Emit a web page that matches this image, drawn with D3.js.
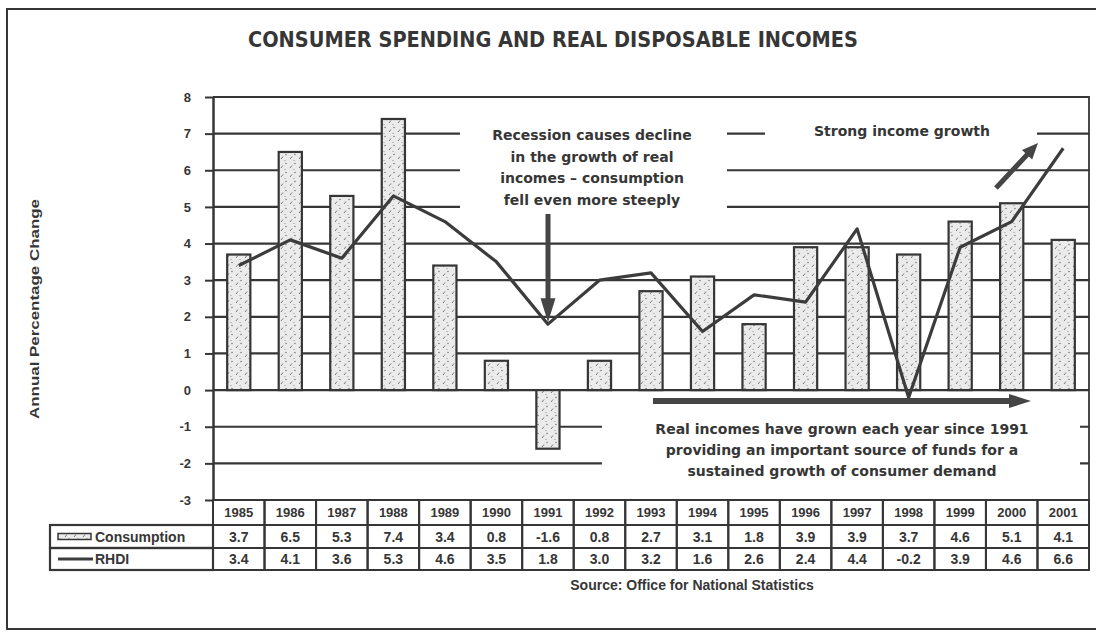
<!DOCTYPE html>
<html>
<head>
<meta charset="utf-8">
<script src="https://cdn.jsdelivr.net/npm/d3@7"></script>
<style>
  body { margin: 0; background: #fff; }
  svg { display: block; }
</style>
</head>
<body>
<div id="chart"></div>
<script>
var years = ["1985", "1986", "1987", "1988", "1989", "1990", "1991", "1992", "1993",
             "1994", "1995", "1996", "1997", "1998", "1999", "2000", "2001"];
var consumption = [3.7, 6.5, 5.3, 7.4, 3.4, 0.8, -1.6, 0.8, 2.7, 3.1, 1.8, 3.9, 3.9, 3.7, 4.6, 5.1, 4.1];
var rhdi = [3.4, 4.1, 3.6, 5.3, 4.6, 3.5, 1.8, 3.0, 3.2, 1.6, 2.6, 2.4, 4.4, -0.2, 3.9, 4.6, 6.6];
var yTicks = [-3, -2, -1, 0, 1, 2, 3, 4, 5, 6, 7, 8];
var gridValues = [-2, -1, 0, 1, 2, 3, 4, 5, 6, 7];
var seriesNames = ["Consumption", "RHDI"];
var title = "CONSUMER SPENDING AND REAL DISPOSABLE INCOMES";
var yLabel = "Annual Percentage Change";
var source = "Source: Office for National Statistics";
var recessionNote = ["Recession causes decline", "in the growth of real",
                     "incomes \u2013 consumption", "fell even more steeply"];
var growthNote = ["Strong income growth"];
var incomeNote = ["Real incomes have grown each year since 1991",
                  "providing an important source of funds for a",
                  "sustained growth of consumer demand"];

var W = 1096, H = 639;
var INK = "#363636";
var LEFT = 213, RIGHT = 1089, TOP = 97, BOTTOM = 500;
var ROW_H = [25, 23, 22];

var svg = d3.select("#chart")
  .append("svg")
  .attr("width", W)
  .attr("height", H);

// grainy fill used for the bars
var defs = svg.append("defs");
var pat = defs.append("pattern")
  .attr("id", "stipple")
  .attr("patternUnits", "userSpaceOnUse")
  .attr("width", 9)
  .attr("height", 9);
pat.append("rect").attr("width", 9).attr("height", 9).attr("fill", "#ebebeb");
pat.append("line")
  .attr("x1", 2).attr("y1", 6).attr("x2", 4).attr("y2", 3.5)
  .attr("stroke", "#7a7a7a").attr("stroke-width", 1);
pat.append("circle").attr("cx", 7).attr("cy", 1.5).attr("r", 0.7).attr("fill", "#666");
pat.append("circle").attr("cx", 6).attr("cy", 7.5).attr("r", 0.6).attr("fill", "#888");

var y = d3.scaleLinear().domain([-3, 8]).range([BOTTOM, TOP]);
var cols = d3.scaleBand().domain(years).range([LEFT, RIGHT]);
var x = d3.scaleBand().domain(years).range([LEFT, RIGHT])
  .paddingInner(0.55).paddingOuter(0.275);

// outer frame (left, top, bottom edges of the scanned page)
svg.append("path")
  .attr("d", "M1096,9 L7,9 L7,629 L1096,629")
  .attr("fill", "none")
  .attr("stroke", INK)
  .attr("stroke-width", 2);

svg.append("text")
  .attr("x", 553)
  .attr("y", 47)
  .attr("text-anchor", "middle")
  .attr("textLength", 610)
  .attr("lengthAdjust", "spacingAndGlyphs")
  .style("font-family", "'Liberation Sans Narrow', 'DejaVu Sans Condensed', sans-serif")
  .style("font-weight", "bold")
  .style("font-size", "21px")
  .attr("fill", INK)
  .text(title);

// gridlines
svg.append("g")
  .selectAll("line")
  .data(gridValues)
  .join("line")
  .attr("x1", LEFT)
  .attr("x2", RIGHT)
  .attr("y1", function(d) { return y(d); })
  .attr("y2", function(d) { return y(d); })
  .attr("stroke", INK)
  .attr("stroke-width", 2.2);

// plot border: top and right
svg.append("path")
  .attr("d", "M" + LEFT + "," + y(8) + " L" + RIGHT + "," + y(8) + " L" + RIGHT + "," + BOTTOM)
  .attr("fill", "none")
  .attr("stroke", INK)
  .attr("stroke-width", 1.8);

// white knock-outs behind the notes, breaking the gridlines
var knockouts = [
  { x0: 460, x1: 727, v0: 7.45, v1: 4.6 },
  { x0: 765, x1: 1037, v0: 7.45, v1: 6.6 },
  { x0: 602, x1: 1080, v0: -0.6, v1: -2.5 }
];
svg.append("g")
  .selectAll("rect")
  .data(knockouts)
  .join("rect")
  .attr("x", function(d) { return d.x0; })
  .attr("y", function(d) { return y(d.v0); })
  .attr("width", function(d) { return d.x1 - d.x0; })
  .attr("height", function(d) { return y(d.v1) - y(d.v0); })
  .attr("fill", "#fff");

// bars
svg.append("g")
  .selectAll("rect")
  .data(consumption)
  .join("rect")
  .attr("x", function(d, i) { return x(years[i]); })
  .attr("y", function(d) { return y(Math.max(0, d)); })
  .attr("width", x.bandwidth())
  .attr("height", function(d) { return Math.abs(y(d) - y(0)); })
  .attr("fill", "url(#stipple)")
  .attr("stroke", INK)
  .attr("stroke-width", 2.2);

// RHDI line
var line = d3.line()
  .x(function(d, i) { return x(years[i]) + x.bandwidth() / 2; })
  .y(function(d) { return y(d); });

svg.append("path")
  .datum(rhdi)
  .attr("d", line)
  .attr("fill", "none")
  .attr("stroke", "#3c3c3c")
  .attr("stroke-width", 3.2)
  .attr("stroke-linejoin", "round");

// y axis
var axis = svg.append("g")
  .attr("transform", "translate(" + LEFT + ",0)")
  .call(d3.axisLeft(y)
    .tickValues(yTicks)
    .tickFormat(function(d) { return String(d); })
    .tickSize(8)
    .tickSizeOuter(0)
    .tickPadding(14));
axis.select(".domain").attr("stroke", INK).attr("stroke-width", 2.5);
axis.selectAll(".tick line").attr("stroke", INK).attr("stroke-width", 2);
axis.selectAll(".tick text")
  .style("font-family", "'Liberation Sans', Arial, sans-serif")
  .style("font-weight", "bold")
  .style("font-size", "13px")
  .attr("fill", INK);

svg.append("text")
  .attr("transform", "translate(39,309) rotate(-90)")
  .attr("text-anchor", "middle")
  .attr("textLength", 220)
  .attr("lengthAdjust", "spacingAndGlyphs")
  .style("font-family", "'Liberation Sans Narrow', 'Liberation Sans', sans-serif")
  .style("font-weight", "bold")
  .style("font-size", "12px")
  .attr("fill", INK)
  .text(yLabel);

// notes
var noteFont = "'DejaVu Sans', 'Noto Sans', sans-serif";
var drawNote = function(lines, cx, top, gap) {
  svg.append("g")
    .selectAll("text")
    .data(lines)
    .join("text")
    .attr("x", cx)
    .attr("y", function(d, i) { return top + i * gap; })
    .attr("text-anchor", "middle")
    .style("font-family", noteFont)
    .style("font-weight", "bold")
    .style("font-size", "14px")
    .attr("fill", INK)
    .text(function(d) { return d; });
};
drawNote(recessionNote, 592, 140, 21.5);
drawNote(growthNote, 902, 136, 0);
drawNote(incomeNote, 842, 434, 21);

// arrows
var drawArrow = function(x1, y1, x2, y2, shaft, head, headLen) {
  var ang = Math.atan2(y2 - y1, x2 - x1);
  var len = Math.hypot(x2 - x1, y2 - y1);
  var g = svg.append("g")
    .attr("transform", "translate(" + x1 + "," + y1 + ") rotate(" + (ang * 180 / Math.PI) + ")");
  g.append("path")
    .attr("d", "M0," + (-shaft / 2) + " L" + (len - headLen) + "," + (-shaft / 2) +
      " L" + (len - headLen) + "," + (-head / 2) + " L" + len + ",0 L" + (len - headLen) + "," + (head / 2) +
      " L" + (len - headLen) + "," + (shaft / 2) + " L0," + (shaft / 2) + "Z")
    .attr("fill", "#454545");
};
drawArrow(548, 214, 548, y(1.85), 5, 15, 24);
drawArrow(996, 188, 1038, 143, 5, 14, 16);
drawArrow(653, 401, 1031, 401, 6, 14, 22);

// data table
var tableTop = BOTTOM;
var rowY = [tableTop, tableTop + ROW_H[0], tableTop + ROW_H[0] + ROW_H[1]];
var tableFont = "'Liberation Sans', Arial, sans-serif";
var table = svg.append("g");

table.selectAll("rect.year")
  .data(years)
  .join("rect")
  .attr("class", "year")
  .attr("x", function(d) { return cols(d); })
  .attr("y", rowY[0])
  .attr("width", cols.bandwidth())
  .attr("height", ROW_H[0])
  .attr("fill", "none")
  .attr("stroke", INK)
  .attr("stroke-width", 2);

table.selectAll("text.year")
  .data(years)
  .join("text")
  .attr("class", "year")
  .attr("x", function(d) { return cols(d) + cols.bandwidth() / 2; })
  .attr("y", rowY[0] + 17)
  .attr("text-anchor", "middle")
  .style("font-family", "'Liberation Sans Narrow', " + tableFont)
  .style("font-weight", "bold")
  .style("font-size", "13px")
  .attr("fill", INK)
  .text(function(d) { return d; });

var drawRow = function(values, r) {
  var top = rowY[r];
  var h = ROW_H[r];
  table.append("rect")
    .attr("x", 50)
    .attr("y", top)
    .attr("width", LEFT - 50)
    .attr("height", h)
    .attr("fill", "none")
    .attr("stroke", INK)
    .attr("stroke-width", 2.2);

  table.append("g")
    .selectAll("rect")
    .data(values)
    .join("rect")
    .attr("x", function(d, i) { return cols(years[i]); })
    .attr("y", top)
    .attr("width", cols.bandwidth())
    .attr("height", h)
    .attr("fill", "none")
    .attr("stroke", INK)
    .attr("stroke-width", 2);

  table.append("g")
    .selectAll("text")
    .data(values)
    .join("text")
    .attr("x", function(d, i) { return cols(years[i]) + cols.bandwidth() / 2; })
    .attr("y", top + h / 2 + 5)
    .attr("text-anchor", "middle")
    .style("font-family", tableFont)
    .style("font-weight", "bold")
    .style("font-size", "14px")
    .attr("fill", INK)
    .text(function(d) { return d.toFixed(1); });

  table.append("text")
    .attr("x", 95)
    .attr("y", top + h / 2 + 5)
    .style("font-family", tableFont)
    .style("font-weight", "bold")
    .style("font-size", "14px")
    .attr("fill", INK)
    .text(seriesNames[r - 1]);
};
drawRow(consumption, 1);
drawRow(rhdi, 2);

// legend swatches
table.append("rect")
  .attr("x", 58)
  .attr("y", rowY[1] + ROW_H[1] / 2 - 3)
  .attr("width", 33)
  .attr("height", 6)
  .attr("fill", "url(#stipple)")
  .attr("stroke", INK)
  .attr("stroke-width", 1.5);
table.append("line")
  .attr("x1", 58)
  .attr("x2", 93)
  .attr("y1", rowY[2] + ROW_H[2] / 2)
  .attr("y2", rowY[2] + ROW_H[2] / 2)
  .attr("stroke", "#3c3c3c")
  .attr("stroke-width", 3);

svg.append("text")
  .attr("x", 692)
  .attr("y", 590)
  .attr("text-anchor", "middle")
  .style("font-family", tableFont)
  .style("font-weight", "bold")
  .style("font-size", "14px")
  .attr("fill", INK)
  .text(source);
</script>
</body>
</html>
